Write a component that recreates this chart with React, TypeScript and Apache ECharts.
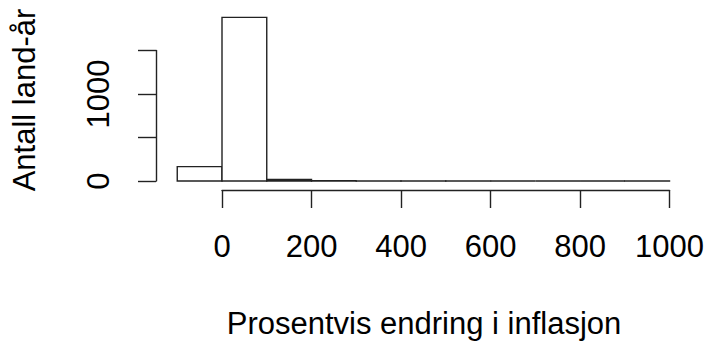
import React, { useEffect, useRef } from "react";
import * as echarts from "echarts";

// Histogram bins (lower, upper) and counts
const binLower = [-100, 0, 100, 200, 300, 400, 500, 600, 700, 800, 900];
const binUpper = [0, 100, 200, 300, 400, 500, 600, 700, 800, 900, 1000];
const counts = [165, 1881, 18, 4, 2, 1, 1, 0, 0, 0, 1];

const xTickValues = [0, 200, 400, 600, 800, 1000];
const yTickValues = [0, 500, 1000, 1500];
const yLabelShown = [0, 1000];

const xTitle = "Prosentvis endring i inflasjon";
const yTitle = "Antall land-år";

const FONT = "'Liberation Sans', Arial, sans-serif";
const LINE = "#222";

export default function App() {
  const ref = useRef<HTMLDivElement>(null);
  useEffect(() => {
    document.body.style.margin = "0";
    if (!ref.current) return;
    const chart = echarts.init(ref.current, undefined, { renderer: "svg" });
    const data = binLower.map((lo, i) => [lo, binUpper[i], counts[i]]);
    chart.setOption({
      animation: false,
      backgroundColor: "#fff",
      grid: { left: 222, top: 50.5, width: 448, height: 130.5 },
      xAxis: {
        type: "value",
        min: xTickValues[0],
        max: xTickValues[xTickValues.length - 1],
        interval: xTickValues[1] - xTickValues[0],
        offset: 9,
        axisLine: { show: true, onZero: false, lineStyle: { color: LINE, width: 1.4 } },
        axisTick: { show: true, length: 18, lineStyle: { color: LINE, width: 1.4 } },
        axisLabel: {
          fontSize: 31,
          color: "#000",
          fontFamily: FONT,
          margin: 41,
          formatter: (v: number) => String(v),
        },
        splitLine: { show: false },
      },
      yAxis: {
        type: "value",
        min: yTickValues[0],
        max: yTickValues[yTickValues.length - 1],
        interval: yTickValues[1] - yTickValues[0],
        offset: 66,
        axisLine: { show: true, onZero: false, lineStyle: { color: LINE, width: 1.4 } },
        axisTick: { show: true, length: 18, lineStyle: { color: LINE, width: 1.4 } },
        axisLabel: {
          fontSize: 31,
          color: "#000",
          fontFamily: FONT,
          rotate: 90,
          margin: 42,
          formatter: (v: number) => (yLabelShown.includes(v) ? String(v) : ""),
        },
        splitLine: { show: false },
      },
      graphic: [
        {
          type: "text",
          x: 424,
          y: 323,
          style: {
            text: xTitle,
            fontSize: 31,
            fontFamily: FONT,
            fill: "#000",
            textAlign: "center",
            textVerticalAlign: "middle",
          },
        },
        {
          type: "text",
          x: 24,
          y: 100,
          rotation: Math.PI / 2,
          style: {
            text: yTitle,
            fontSize: 31,
            fontFamily: FONT,
            fill: "#000",
            textAlign: "center",
            textVerticalAlign: "middle",
          },
        },
      ],
      series: [
        {
          type: "custom",
          clip: false,
          data,
          encode: { x: [0, 1], y: 2 },
          renderItem: (params: any, api: any) => {
            const p0 = api.coord([api.value(0), api.value(2)]);
            const p1 = api.coord([api.value(1), 0]);
            return {
              type: "rect",
              shape: { x: p0[0], y: p0[1], width: p1[0] - p0[0], height: p1[1] - p0[1] },
              style: { fill: "#fff", stroke: LINE, lineWidth: 1.4 },
            };
          },
        },
      ],
    });
    return () => chart.dispose();
  }, []);
  return (
    <div
      ref={ref}
      style={{ position: "absolute", left: 0, top: 0, width: 707, height: 343 }}
    />
  );
}
